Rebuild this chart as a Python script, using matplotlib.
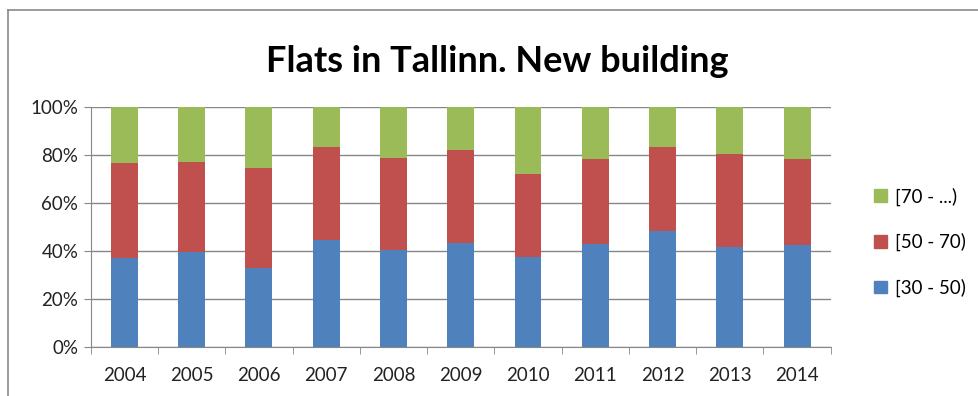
import matplotlib.pyplot as plt
from matplotlib.lines import Line2D
from matplotlib.patches import Patch
import numpy as np

years = ["2004", "2005", "2006", "2007", "2008", "2009",
         "2010", "2011", "2012", "2013", "2014"]
# share of flats by size group, percent
small = [37.3, 39.8, 32.9, 44.8, 40.4, 43.6, 37.6, 43.2, 48.6, 41.9, 42.5]   # [30 - 50)
medium = [39.5, 37.5, 41.7, 38.7, 38.6, 38.6, 34.7, 35.3, 34.9, 38.8, 36.0]  # [50 - 70)
large = [23.2, 22.7, 25.4, 16.5, 21.0, 17.8, 27.7, 21.5, 16.5, 19.3, 21.5]   # [70 - ...)
labels = ["[30 - 50)", "[50 - 70)", "[70 - ...)"]
colors = ["#4F81BD", "#C0504D", "#9BBB59"]

plt.rcParams["font.family"] = ["Lato", "DejaVu Sans"]

fig = plt.figure(figsize=(9.79, 3.96), dpi=100)
ax = fig.add_axes([0.0927, 0.123, 0.7558, 0.606])

x = np.arange(len(years))
bottom = np.zeros(len(years))
for vals, col in zip([small, medium, large], colors):
    ax.bar(x, vals, width=0.4, bottom=bottom, color=col, zorder=3)
    bottom += np.array(vals)

ax.set_xlim(-0.5, len(years) - 0.5)
ax.set_ylim(0, 100)
ax.set_yticks(range(0, 101, 20))
ax.set_yticklabels([f"{v}%" for v in range(0, 101, 20)], fontsize=13.5, color="#222222")
ax.set_xticks(x)
ax.set_xticklabels(years, fontsize=13.5, color="#222222")
ax.set_xticks(np.arange(-0.5, len(years)), minor=True)
ax.tick_params(axis="x", which="major", length=0, pad=14)
ax.tick_params(axis="x", which="minor", length=5, direction="out", color="#878787")
ax.tick_params(axis="y", length=5, direction="out", color="#878787", pad=4)

ax.grid(axis="y", color="#878787", linewidth=1, zorder=0)
for s in ["top", "right"]:
    ax.spines[s].set_visible(False)
ax.spines["left"].set_color("#878787")
ax.spines["bottom"].set_color("#878787")

fig.text(0.508, 0.845, "Flats in Tallinn. New building", ha="center", va="center",
         fontsize=26, fontweight="bold", color="black")

handles = [Patch(color=c) for c in colors][::-1]
fig.legend(handles, labels[::-1], loc="center left", bbox_to_anchor=(0.876, 0.389),
           frameon=False, fontsize=13.5, handlelength=0.65, handleheight=0.65,
           handletextpad=0.45, labelspacing=1.45)

# chart frame
fig.add_artist(Line2D([0.0082, 1.0], [0.976, 0.976], color="#8a8a8a", linewidth=1.2))
fig.add_artist(Line2D([0.0082, 0.0082], [0.976, 0.0], color="#8a8a8a", linewidth=1.2))

fig.savefig("out.png", dpi=100)
